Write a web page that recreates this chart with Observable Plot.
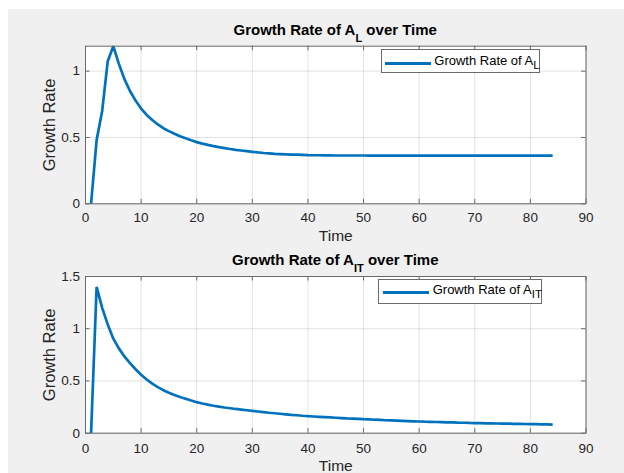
<!DOCTYPE html>
<html>
<head>
<meta charset="utf-8">
<script src="https://cdn.jsdelivr.net/npm/d3@7"></script>
<script src="https://cdn.jsdelivr.net/npm/@observablehq/plot@0.6"></script>
<style>
  body { margin: 0; background: #fff; font-family: "Liberation Sans", Arial, Helvetica, sans-serif; }
  #page { position: relative; width: 624px; height: 473px; overflow: hidden; }
  #bg { position: absolute; left: 8px; top: 9px; right: 0; bottom: 0; background: #f0f0f0; }
  .panel { position: absolute; left: 0; }
  .title { position: absolute; left: 85px; width: 500.5px; text-align: center; font-weight: bold;
           font-size: 15px; line-height: 15px; color: #000; white-space: nowrap; }
  .title .sub { position: relative; top: 7px; font-size: 11px; }
  .legend { position: absolute; box-sizing: border-box; background: #fff; border: 1px solid #6a6a6a; }
  .legend .swatch { position: absolute; height: 3px; background: #0072BD; }
  .legend .label { position: absolute; font-size: 13px; line-height: 13px; color: #000; white-space: nowrap; }
  .legend .label .sub { position: relative; top: 4.5px; font-size: 11.5px; }
</style>
</head>
<body>
<div id="page"><div id="bg"></div></div>
<script>
// Time steps and the two simulated growth-rate series
const time = d3.range(1, 85);

const growthAL = [
  0, 0.48, 0.70, 1.075, 1.188, 1.055, 0.94, 0.85, 0.778, 0.718,
  0.67, 0.632, 0.598, 0.57, 0.548, 0.528, 0.51, 0.494, 0.479, 0.465,
  0.454, 0.444, 0.435, 0.427, 0.42, 0.413, 0.407, 0.402, 0.397, 0.392,
  0.387, 0.383, 0.38, 0.377, 0.375, 0.373, 0.371, 0.37, 0.369, 0.367,
  0.366, 0.366, 0.365, 0.365, 0.364, 0.364, 0.364, 0.364, 0.364, 0.364,
  0.363, 0.363, 0.363, 0.363, 0.363, 0.363, 0.363, 0.363, 0.363, 0.363,
  0.363, 0.363, 0.363, 0.363, 0.363, 0.363, 0.363, 0.363, 0.363, 0.363,
  0.363, 0.363, 0.363, 0.363, 0.363, 0.363, 0.363, 0.363, 0.363, 0.363,
  0.363, 0.363, 0.363, 0.363
];

const growthAIT = [
  0, 1.40, 1.20, 1.04, 0.905, 0.812, 0.735, 0.67, 0.612, 0.56,
  0.514, 0.474, 0.441, 0.412, 0.387, 0.366, 0.347, 0.33, 0.313, 0.297,
  0.284, 0.273, 0.263, 0.254, 0.246, 0.239, 0.232, 0.226, 0.22, 0.214,
  0.208, 0.202, 0.196, 0.191, 0.186, 0.181, 0.176, 0.172, 0.167, 0.163,
  0.16, 0.157, 0.154, 0.151, 0.148, 0.145, 0.142, 0.14, 0.137, 0.134,
  0.132, 0.129, 0.127, 0.124, 0.122, 0.12, 0.118, 0.116, 0.114, 0.112,
  0.11, 0.109, 0.107, 0.106, 0.104, 0.103, 0.101, 0.1, 0.098, 0.097,
  0.096, 0.095, 0.094, 0.093, 0.092, 0.091, 0.09, 0.089, 0.088, 0.087,
  0.086, 0.085, 0.084, 0.083
];

const timeTicks = [0, 10, 20, 30, 40, 50, 60, 70, 80, 90];
const ticksAL = [0, 0.5, 1];
const ticksAIT = [0, 0.5, 1, 1.5];

const lineColor = "#0072BD";
const axisColor = "#6a6a6a";
const fontFamily = '"Liberation Sans", Arial, Helvetica, sans-serif';

function panel({values, yDomain, yTicks, top, height, marginTop, marginBottom, tickGap, labelGap}) {
  const rows = time.map((t, i) => ({t, v: values[i]}));
  const width = 624, marginLeft = 85, marginRight = 38.5;
  const plotW = width - marginLeft - marginRight;
  const plotH = height - marginTop - marginBottom;
  const tick = 4.5;
  const svg = Plot.plot({
    width, height, marginLeft, marginRight, marginTop, marginBottom,
    style: {background: "transparent", fontFamily, color: "#262626", overflow: "visible"},
    x: {domain: [0, 90], label: null},
    y: {domain: yDomain, label: null},
    marks: [
      Plot.frame({fill: "white"}),
      Plot.gridX(timeTicks, {stroke: "#262626", strokeOpacity: 0.13}),
      Plot.gridY(yTicks, {stroke: "#262626", strokeOpacity: 0.13}),
      // inward ticks on all four sides of the box
      Plot.ruleX(timeTicks, {insetTop: plotH - tick, stroke: axisColor}),
      Plot.ruleX(timeTicks, {insetBottom: plotH - tick, stroke: axisColor}),
      Plot.ruleY(yTicks, {insetRight: plotW - tick, stroke: axisColor}),
      Plot.ruleY(yTicks, {insetLeft: plotW - tick, stroke: axisColor}),
      Plot.axisX(timeTicks, {tickSize: 0, tickPadding: tickGap, fontSize: 13.5, label: null}),
      Plot.axisY(yTicks, {tickSize: 0, tickPadding: 5.5, fontSize: 13.5, label: null, tickFormat: d => String(d)}),
      Plot.line(rows, {x: "t", y: "v", stroke: lineColor, strokeWidth: 2.7,
                       strokeLinejoin: "miter", strokeLinecap: "butt"}),
      Plot.frame({stroke: axisColor}),
      Plot.text(["Time"], {text: d => d, frameAnchor: "bottom", dy: labelGap, lineAnchor: "top",
                           textAnchor: "middle", fontSize: 15.5, fill: "#262626"}),
      Plot.text(["Growth Rate"], {text: d => d, frameAnchor: "left", dx: -35.6, rotate: -90,
                                  textAnchor: "middle", lineAnchor: "middle",
                                  fontSize: 16.5, fill: "#262626"})
    ]
  });
  svg.classList.add("panel");
  svg.style.top = top + "px";
  return svg;
}

function title(html, top) {
  const div = document.createElement("div");
  div.className = "title";
  div.style.top = top + "px";
  div.innerHTML = html;
  return div;
}

function legend({left, top, width, height, lineLeft, lineWidth, lineTop, textLeft, textTop, html}) {
  const box = document.createElement("div");
  box.className = "legend";
  Object.assign(box.style, {left: left + "px", top: top + "px", width: width + "px", height: height + "px"});
  const sw = document.createElement("span");
  sw.className = "swatch";
  Object.assign(sw.style, {left: lineLeft + "px", top: lineTop + "px", width: lineWidth + "px"});
  const lab = document.createElement("span");
  lab.className = "label";
  Object.assign(lab.style, {left: textLeft + "px", top: textTop + "px"});
  lab.innerHTML = html;
  box.append(sw, lab);
  return box;
}

const page = document.getElementById("page");

page.append(panel({
  values: growthAL, yDomain: [0, d3.max(growthAL)], yTicks: ticksAL,
  top: 0, height: 240, marginTop: 45.7, marginBottom: 36.7, tickGap: 8.5, labelGap: 26.5
}));
page.append(panel({
  values: growthAIT, yDomain: [0, 1.5], yTicks: ticksAIT,
  top: 240, height: 233, marginTop: 36, marginBottom: 40.3, tickGap: 10, labelGap: 26.5
}));

page.append(title('Growth Rate of A<span class="sub">L</span> over Time', 22.3));
page.append(title('Growth Rate of A<span class="sub">IT</span> over Time', 252.3));

page.append(legend({
  left: 380.7, top: 49.3, width: 159.3, height: 24,
  lineLeft: 3.3, lineWidth: 46, lineTop: 11.5, textLeft: 52.6, textTop: 3.7,
  html: 'Growth Rate of A<span class="sub">L</span>'
}));
page.append(legend({
  left: 378.3, top: 279.3, width: 163.4, height: 24.4,
  lineLeft: 4, lineWidth: 46, lineTop: 10.5, textLeft: 53.4, textTop: 2.4,
  html: 'Growth Rate of A<span class="sub">IT</span>'
}));
</script>
</body>
</html>
